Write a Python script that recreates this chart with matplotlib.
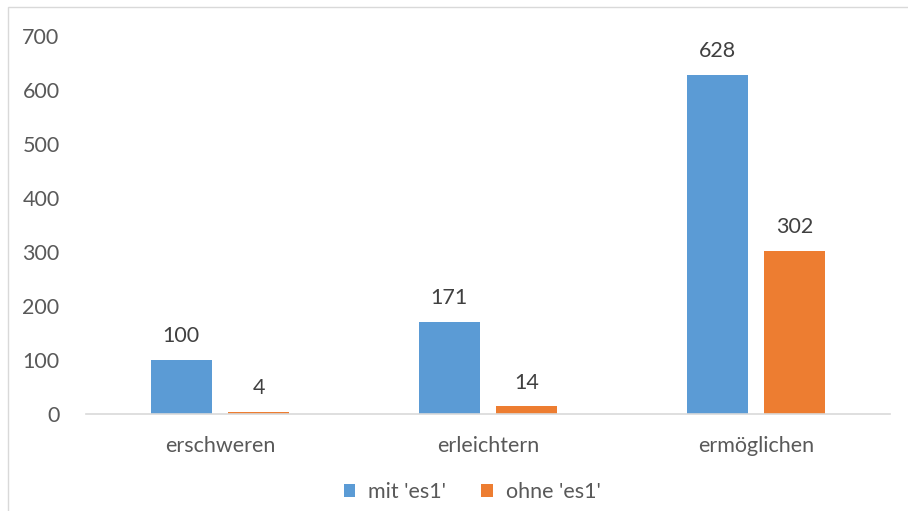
import matplotlib.pyplot as plt
import numpy as np
from matplotlib.patches import Rectangle

# Daten
kategorien = ['erschweren', 'erleichtern', 'ermöglichen']
mit_es1 = [100, 171, 628]
ohne_es1 = [4, 14, 302]
serien = ["mit 'es1'", "ohne 'es1'"]

blau = '#5b9bd5'
orange = '#ed7d31'
grau = '#595959'

plt.rcParams['font.family'] = ['Lato', 'DejaVu Sans']
fs = 15.5

fig = plt.figure(figsize=(9.08, 5.11), dpi=100)
ax = fig.add_axes([86/908, 1 - 414/511, (890-86)/908, (414-36)/511])

x = np.arange(len(kategorien))
breite = 0.227
b1 = ax.bar(x - 0.145, mit_es1, breite, color=blau, label=serien[0])
b2 = ax.bar(x + 0.145, ohne_es1, breite, color=orange, label=serien[1])

for balken, werte in ((b1, mit_es1), (b2, ohne_es1)):
    for r, w in zip(balken, werte):
        ax.annotate(str(w), (r.get_x() + r.get_width()/2, w), xytext=(0, 10),
                    textcoords='offset points', ha='center', va='bottom',
                    fontsize=fs, color='#404040')

ax.set_xlim(-0.5, 2.5)
ax.set_ylim(0, 700)
ax.set_yticks(range(0, 701, 100))
ax.set_xticks(x)
ax.set_xticklabels(kategorien)
ax.tick_params(axis='both', length=0, labelsize=fs, colors=grau)
ax.tick_params(axis='y', pad=19)
ax.tick_params(axis='x', pad=16)
for s in ['top', 'right', 'left']:
    ax.spines[s].set_visible(False)
ax.spines['bottom'].set_color('#d9d9d9')
ax.spines['bottom'].set_linewidth(1.2)

leg = fig.legend(loc='center', bbox_to_anchor=(472/908, 1 - 492/511), ncol=2, frameon=False,
                 fontsize=fs, handlelength=0.55, handleheight=0.55, columnspacing=1.6,
                 handletextpad=0.6)
for t in leg.get_texts():
    t.set_color(grau)

# Rahmen des Diagrammbereichs
fig.patches.append(Rectangle((8/908, -0.1), 1.2, 1 - 7/511 + 0.1, transform=fig.transFigure,
                             fill=False, edgecolor='#d9d9d9', linewidth=1.0))

fig.savefig('out.png', dpi=100)
